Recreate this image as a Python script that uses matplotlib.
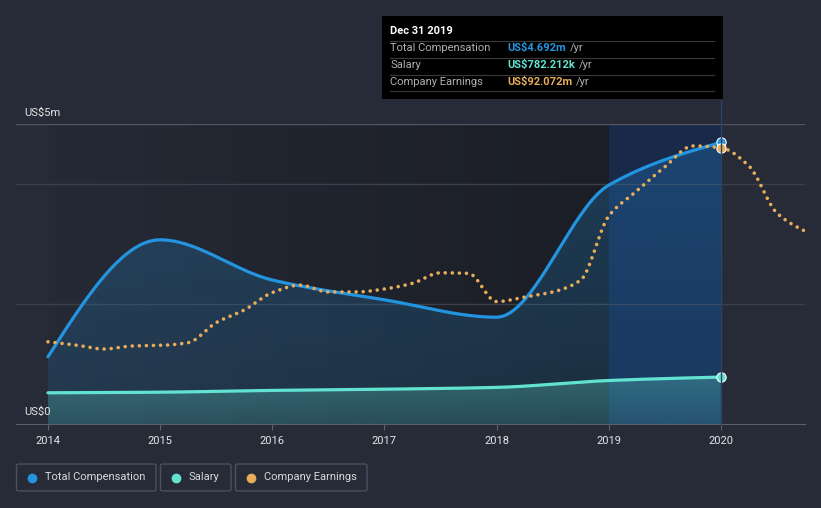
import numpy as np
import matplotlib
matplotlib.use("Agg")
import matplotlib.pyplot as plt
from matplotlib.patches import FancyBboxPatch, Rectangle
from matplotlib.lines import Line2D
from matplotlib.colors import to_rgb

plt.rcParams['font.family'] = ['Roboto', 'DejaVu Sans']

# values in US$m
years = [2014, 2015, 2016, 2017, 2018, 2019, 2020]
total_comp = [1.12, 3.07, 2.40, 2.07, 1.78, 3.98, 4.692]
salary = [0.52, 0.53, 0.56, 0.58, 0.61, 0.725, 0.782]

earn_dates = [2014.0, 2014.25, 2014.5, 2014.75, 2015.0, 2015.25, 2015.5, 2015.75,
              2016.0, 2016.25, 2016.5, 2016.75, 2017.0, 2017.25, 2017.5, 2017.75,
              2018.0, 2018.25, 2018.5, 2018.75, 2019.0, 2019.25, 2019.5, 2019.75,
              2020.0, 2020.25, 2020.5, 2020.75]
earnings = [27.4, 26.3, 25.0, 26.0, 26.2, 27.1, 33.8, 38.0,
            43.8, 46.3, 44.0, 44.0, 45.0, 46.9, 50.4, 50.2,
            40.8, 42.3, 44.0, 48.0, 69.3, 77.7, 85.7, 92.7,
            92.072, 86.0, 70.3, 64.3]

labels = ['Total Compensation', 'Salary', 'Company Earnings']
tip_values = ['US$4.692m', 'US$782.212k', 'US$92.072m']

BG = '#262b37'
BLUE = '#2394df'
TEAL = '#62e3d1'
ORANGE = '#e8ad5a'
W, H = 821, 508


def monotone(x, y, n=40):
    # monotone cubic (like d3 curveMonotoneX) just for drawing the line
    x = np.asarray(x, float)
    y = np.asarray(y, float)
    h = np.diff(x)
    d = np.diff(y) / h
    m = np.zeros_like(y)
    for i in range(1, len(y) - 1):
        if d[i - 1] * d[i] > 0:
            m[i] = 2 * d[i - 1] * d[i] / (d[i - 1] + d[i])
    m[0] = (3 * d[0] - m[1]) / 2 if len(y) > 2 else d[0]
    m[-1] = (3 * d[-1] - m[-2]) / 2 if len(y) > 2 else d[-1]
    if m[0] * d[0] <= 0:
        m[0] = 0
    if m[-1] * d[-1] <= 0:
        m[-1] = 0
    xs, ys = [], []
    for i in range(len(h)):
        t = np.linspace(0, 1, n, endpoint=(i == len(h) - 1))
        h00 = 2 * t**3 - 3 * t**2 + 1
        h10 = t**3 - 2 * t**2 + t
        h01 = -2 * t**3 + 3 * t**2
        h11 = t**3 - t**2
        xs.append(x[i] + t * h[i])
        ys.append(h00 * y[i] + h10 * h[i] * m[i] + h01 * y[i + 1] + h11 * h[i] * m[i + 1])
    return np.concatenate(xs), np.concatenate(ys)


def grad_fill(ax, x, y, color, a_top, a_bot, z):
    poly = ax.fill_between(x, 0, y, color='none', lw=0)
    path = poly.get_paths()[0]
    img = np.zeros((100, 1, 4))
    img[:, :, :3] = to_rgb(color)
    img[:, 0, 3] = np.linspace(a_bot, a_top, 100)
    im = ax.imshow(img, extent=[x[0], x[-1], 0, max(y)], origin='lower',
                   aspect='auto', zorder=z, interpolation='bilinear')
    im.set_clip_path(path, transform=ax.transData)


def px(x, y):
    return x / W, 1 - y / H


fig = plt.figure(figsize=(W / 100, H / 100), dpi=100, facecolor=BG)
ax = fig.add_axes([16 / W, 1 - 424 / H, 789 / W, 300 / H])
ax.set_facecolor(BG)
ax.set_xlim(2013.715, 2020.75)
ax.set_ylim(0, 5)

# background shading of the past years and highlighted last year
bg = np.zeros((1, 200, 3))
left = np.array([37, 42, 54]) / 255
right = np.array([27, 30, 38]) / 255
bg[0] = left + np.linspace(0, 1, 200)[:, None] * (right - left)
ax.imshow(bg, extent=[2014, 2019, 0, 5], aspect='auto', zorder=0)
ax.axvspan(2019, 2020, color='#19294a', zorder=0.5, lw=0)

for v in [2, 4]:
    ax.axhline(v, color='#3a3f4b', lw=1, zorder=1)
ax.axhline(5, color='#50555f', lw=1, zorder=1)

cx, cy = monotone(years, total_comp)
sx, sy = monotone(years, salary)
grad_fill(ax, cx, cy, BLUE, 0.26, 0.14, 2)
grad_fill(ax, sx, sy, TEAL, 0.30, 0.16, 3)
ax.plot(cx, cy, color=BLUE, lw=2.3, zorder=5, solid_capstyle='round')
ax.plot(sx, sy, color=TEAL, lw=2.3, zorder=5, solid_capstyle='round')

ax2 = ax.twinx()
ax2.set_ylim(0, 100)
ax2.axis('off')
ex, ey = monotone(earn_dates, earnings, 20)
ax2.plot(ex, ey, color=ORANGE, lw=2.6, linestyle=(0, (0.01, 1.95)),
         dash_capstyle='round', zorder=6)

ax.scatter([years[-1]], [total_comp[-1]], s=45, color=BLUE, edgecolor='white',
           lw=0.8, zorder=8, clip_on=False)
ax.scatter([years[-1]], [salary[-1]], s=45, color=TEAL, edgecolor='white',
           lw=0.8, zorder=8, clip_on=False)
ax2.scatter([earn_dates[24]], [earnings[24]], s=45, color=ORANGE, edgecolor='white',
            lw=0.8, zorder=8, clip_on=False)

for s in ['left', 'right', 'top']:
    ax.spines[s].set_visible(False)
ax.spines['bottom'].set_color('#5a5f6a')
ax.set_yticks([])
ax.set_xticks(years)
ax.set_xticklabels([str(y) for y in years])
ax.tick_params(axis='x', colors='#5a5f6a', length=4, labelcolor='#e6e6e6',
               labelsize=8, pad=5)

fig.text(*px(24, 113), 'US$5m', color='#e6e6e6', fontsize=8, va='center')
fig.text(*px(24, 412), 'US$0', color='#e6e6e6', fontsize=8, va='center')

# vertical marker line at the hovered date
fig.add_artist(Line2D([721 / W, 721 / W], [1 - 100 / H, 1 - 424 / H],
                      color='#2a4468', lw=1, zorder=1))

# tooltip
fig.add_artist(Rectangle(px(382, 99), 341 / W, 83 / H, transform=fig.transFigure,
                         facecolor='black', edgecolor='none', zorder=10))
fig.text(*px(390, 31), 'Dec 31 2019', color='white', fontsize=8, fontweight='bold',
         va='center', zorder=11)
for yy in [40.5, 57.5, 74.5, 91]:
    fig.add_artist(Line2D([390 / W, 714 / W], [1 - yy / H] * 2, color='#3a3a3a',
                          lw=0.8, zorder=11))
renderer = fig.canvas.get_renderer()
row_y = [48, 65, 82]
tip_colors = [BLUE, TEAL, ORANGE]
for lab, val, col, yy in zip(labels, tip_values, tip_colors, row_y):
    fig.text(*px(390, yy), lab, color='#b0b0b0', fontsize=8, va='center', zorder=11)
    t = fig.text(*px(507, yy), val, color=col, fontsize=8, fontweight='bold',
                 va='center', zorder=11)
    x1 = t.get_window_extent(renderer).x1
    fig.text((x1 + 4) / W, 1 - yy / H, '/yr', color='#b0b0b0', fontsize=8,
             va='center', zorder=11)

# legend boxes
boxes = [(16.5, 156), (160.5, 231), (235.5, 367)]
for lab, col, (x0, x1) in zip(labels, tip_colors, boxes):
    fig.add_artist(FancyBboxPatch(px(x0, 491), (x1 - x0) / W, 27 / H,
                                  boxstyle='round,pad=0,rounding_size=0.003',
                                  transform=fig.transFigure, facecolor='none',
                                  edgecolor='#4a505c', lw=1))
    fig.add_artist(Line2D([(x0 + 15.5) / W], [1 - 477.5 / H], marker='o',
                          markersize=6, color=col, lw=0))
    fig.text(*px(x0 + 28, 477.5), lab, color='#d8d8d8', fontsize=8, va='center')

fig.savefig('out.png', dpi=100, facecolor=BG)
